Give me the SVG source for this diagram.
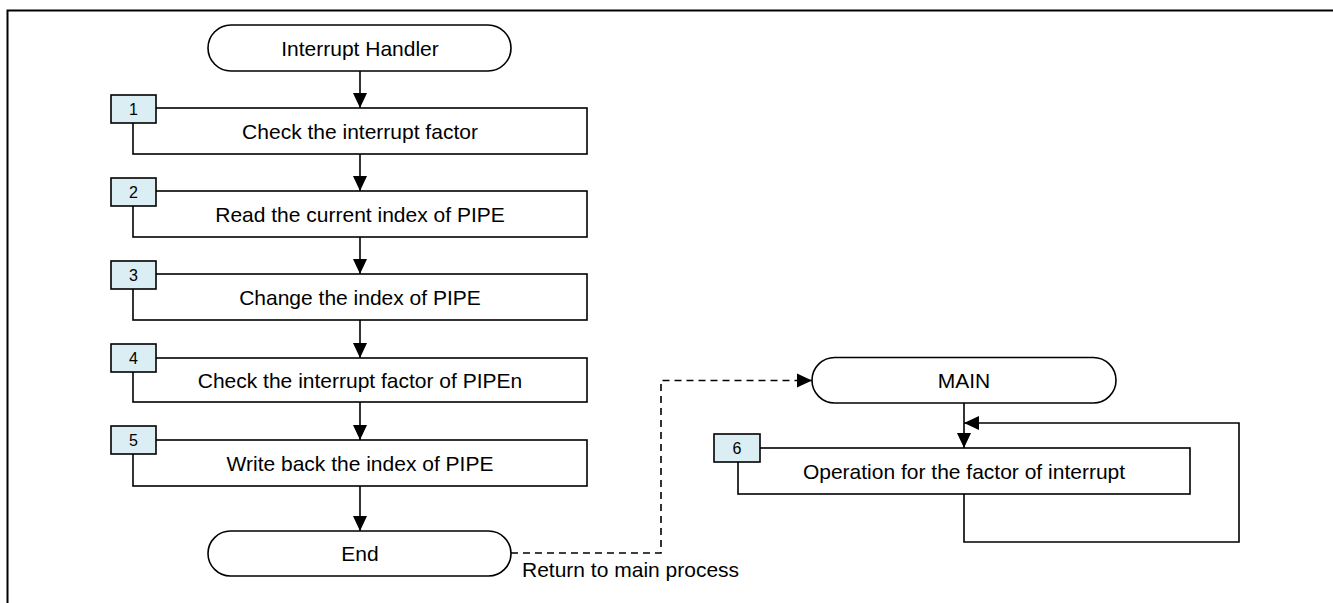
<svg xmlns="http://www.w3.org/2000/svg" width="1333" height="603" viewBox="0 0 1333 603">
<style>
.ln{fill:none;stroke:#000;stroke-width:1.6}
.box{fill:#fff;stroke:#000;stroke-width:1.6}
.tag{fill:#DAEEF3;stroke:#000;stroke-width:1.6}
.t{font-family:"Liberation Sans",Arial,sans-serif;font-size:21px;fill:#000;text-anchor:middle}
.n{font-family:"Liberation Sans",Arial,sans-serif;font-size:16px;fill:#000;text-anchor:middle}
.r{font-family:"Liberation Sans",Arial,sans-serif;font-size:21px;fill:#000}
</style>
<defs>
<marker id="ah" markerUnits="userSpaceOnUse" markerWidth="15" markerHeight="15" refX="15" refY="7.5" orient="auto">
<path d="M0,0.5 L15,7.5 L0,14.5 z" fill="#000"/>
</marker>
</defs>
<rect x="0" y="0" width="1333" height="603" fill="#fff"/>
<path d="M7.5,603 V10.5 H1333" fill="none" stroke="#000" stroke-width="2"/>

<g id="connectors">
<line class="ln" x1="360" y1="71" x2="360" y2="108" marker-end="url(#ah)"/>
<line class="ln" x1="360" y1="154" x2="360" y2="191" marker-end="url(#ah)"/>
<line class="ln" x1="360" y1="237" x2="360" y2="274" marker-end="url(#ah)"/>
<line class="ln" x1="360" y1="320" x2="360" y2="358" marker-end="url(#ah)"/>
<line class="ln" x1="360" y1="402" x2="360" y2="440" marker-end="url(#ah)"/>
<line class="ln" x1="360" y1="486" x2="360" y2="531" marker-end="url(#ah)"/>
<polyline class="ln" points="511,553 661,553 661,380.5 812,380.5" stroke-dasharray="7 5" marker-end="url(#ah)"/>
<line class="ln" x1="964" y1="403" x2="964" y2="448" marker-end="url(#ah)"/>
<polyline class="ln" points="964,494 964,542 1239,542 1239,423 964,423" marker-end="url(#ah)"/>
<text class="r" x="522" y="577">Return to main process</text>
</g>

<g id="start">
<rect class="box" x="208" y="25" width="303" height="46" rx="23" ry="23"/>
<text class="t" x="360" y="55.5">Interrupt Handler</text>
</g>

<g id="step1">
<rect class="box" x="133" y="108" width="454" height="46"/>
<rect class="tag" x="111" y="95" width="45" height="28"/>
<text class="n" x="133.5" y="115">1</text>
<text class="t" x="360" y="138.5">Check the interrupt factor</text>
</g>

<g id="step2">
<rect class="box" x="133" y="191" width="454" height="46"/>
<rect class="tag" x="111" y="178" width="45" height="28"/>
<text class="n" x="133.5" y="198">2</text>
<text class="t" x="360" y="221.5">Read the current index of PIPE</text>
</g>

<g id="step3">
<rect class="box" x="133" y="274" width="454" height="46"/>
<rect class="tag" x="111" y="261" width="45" height="28"/>
<text class="n" x="133.5" y="281">3</text>
<text class="t" x="360" y="304.5">Change the index of PIPE</text>
</g>

<g id="step4">
<rect class="box" x="133" y="358" width="454" height="44"/>
<rect class="tag" x="111" y="344" width="45" height="28"/>
<text class="n" x="133.5" y="364">4</text>
<text class="t" x="360" y="387.5">Check the interrupt factor of PIPEn</text>
</g>

<g id="step5">
<rect class="box" x="133" y="440" width="454" height="46"/>
<rect class="tag" x="111" y="426" width="45" height="28"/>
<text class="n" x="133.5" y="446">5</text>
<text class="t" x="360" y="470.5">Write back the index of PIPE</text>
</g>

<g id="end">
<rect class="box" x="208" y="531" width="303" height="45" rx="22.5" ry="22.5"/>
<text class="t" x="360" y="561">End</text>
</g>

<g id="main">
<rect class="box" x="812" y="357.5" width="304" height="45.5" rx="22.75" ry="22.75"/>
<text class="t" x="964" y="388">MAIN</text>
</g>

<g id="step6">
<rect class="box" x="738" y="448" width="452" height="46"/>
<rect class="tag" x="714" y="434" width="46" height="28"/>
<text class="n" x="737" y="454">6</text>
<text class="t" x="964" y="478.5">Operation for the factor of interrupt</text>
</g>
</svg>
